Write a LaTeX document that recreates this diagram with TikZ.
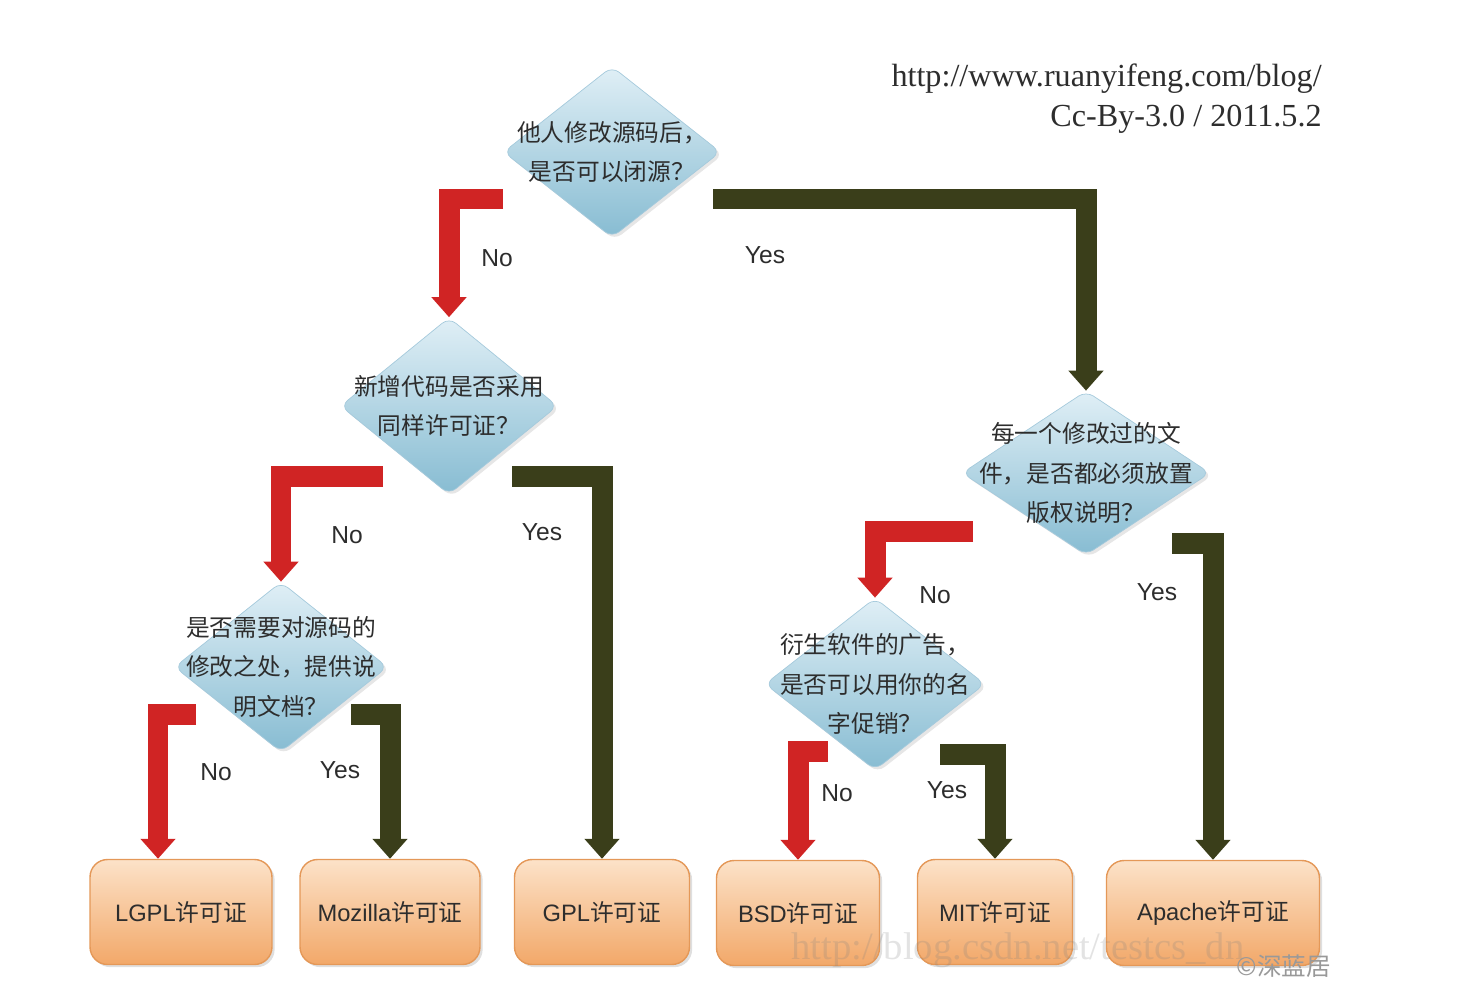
\documentclass[tikz,border=0pt]{standalone}
\usepackage{fontspec}
\setmainfont{Liberation Sans}
\newfontfamily\cjk{Noto Sans CJK SC}
\newfontfamily\serifhdr{Liberation Serif}
\usetikzlibrary{shapes.geometric,arrows.meta,calc,shadows}

\definecolor{diatop}{RGB}{224,239,246}
\definecolor{diabot}{RGB}{135,188,210}
\definecolor{dialine}{RGB}{165,202,220}
\definecolor{boxtop}{RGB}{252,226,200}
\definecolor{boxbot}{RGB}{242,168,105}
\definecolor{boxline}{RGB}{228,152,88}
\definecolor{nored}{RGB}{208,36,36}
\definecolor{yesgreen}{RGB}{58,62,26}
\definecolor{txt}{RGB}{45,45,45}

\begin{document}
\begin{tikzpicture}[x=0.02cm, y=-0.02cm,
        question/.style={diamond, draw=dialine, thin, rounded corners=5pt, top color=diatop, bottom color=diabot, inner sep=0pt, drop shadow={shadow xshift=1.5pt, shadow yshift=-1.5pt, opacity=0.2}},
        qtext/.style={font=\cjk\fontsize{13.5}{22.4}\selectfont, align=center, text=txt},
        licence/.style={rectangle, rounded corners=10pt, draw=boxline, thick, top color=boxtop, bottom color=boxbot, minimum height=2.1cm, font=\fontsize{13.5}{16}\selectfont, text=txt, drop shadow={shadow xshift=1.5pt, shadow yshift=-1.5pt, opacity=0.25}},
        answer/.style={font=\fontsize{14}{16}\selectfont, text=txt},
        noarrow/.style={line width=0.42cm, nored, line join=miter, -{Triangle[width=0.68cm, length=0.4cm]}},
        yesarrow/.style={noarrow, yesgreen}
    ]
    \useasboundingbox (0,0) rectangle (1472,1004);

    % questions
    \node[question, minimum width=4.34cm, minimum height=3.42cm] (closed) at (612,152) {};
    \node[qtext] (closedtxt) at (closed) {他人修改源码后，\\是否可以闭源？};
    \node[question, minimum width=4.34cm, minimum height=3.54cm] (samelic) at (449,406) {};
    \node[qtext] (samelictxt) at (samelic) {新增代码是否采用\\同样许可证？};
    \node[question, minimum width=4.26cm, minimum height=3.4cm] (docs) at (281,667) {};
    \node[qtext] (docstxt) at (docs) {是否需要对源码的\\修改之处，提供说\\明文档？};
    \node[question, minimum width=4.96cm, minimum height=3.28cm] (notice) at (1086,473) {};
    \node[qtext] (noticetxt) at (notice) {每一个修改过的文\\件，是否都必须放置\\版权说明？};
    \node[question, minimum width=4.4cm, minimum height=3.44cm] (promo) at (875,684) {};
    \node[qtext] (promotxt) at (promo) {衍生软件的广告，\\是否可以用你的名\\字促销？};

    % licences
    \node[licence, minimum width=3.64cm] (lgpl) at (181,912) {LGPL{\cjk 许可证}};
    \node[licence, minimum width=3.6cm] (mozilla) at (390,912) {Mozilla{\cjk 许可证}};
    \node[licence, minimum width=3.5cm] (gpl) at (602,912) {GPL{\cjk 许可证}};
    \node[licence, minimum width=3.26cm] (bsd) at (798,913) {BSD{\cjk 许可证}};
    \node[licence, minimum width=3.1cm] (mit) at (995,912) {MIT{\cjk 许可证}};
    \node[licence, minimum width=4.26cm] (apache) at (1213,913) {Apache{\cjk 许可证}};

    \draw[noarrow] ($(closed)+(-109,47)$) -| (samelic.north);
    \draw[yesarrow] ($(closed)+(101,47)$) -| (notice.north);
    \draw[noarrow] ($(samelic)+(-66,70)$) -| (docs.north);
    \draw[yesarrow] ($(samelic)+(63,70)$) -| (gpl.north);
    \draw[noarrow] ($(docs)+(-85,47)$) -| ($(lgpl.north)+(-23,0)$);
    \draw[yesarrow] ($(docs)+(70,47)$) -| (mozilla.north);
    \draw[noarrow] ($(notice)+(-113,58)$) -| (promo.north);
    \draw[yesarrow] ($(notice)+(86,70)$) -| (apache.north);
    \draw[noarrow] ($(promo)+(-47,67)$) -| (bsd.north);
    \draw[yesarrow] ($(promo)+(65,70)$) -| (mit.north);

    \node[answer] (no1) at (497,258) {No};
    \node[answer] (yes1) at (765,255) {Yes};
    \node[answer] (no2) at (347,535) {No};
    \node[answer] (yes2) at (542,532) {Yes};
    \node[answer] (no3) at (216,772) {No};
    \node[answer] (yes3) at (340,770) {Yes};
    \node[answer] (no4) at (935,595) {No};
    \node[answer] (yes4) at (1157,592) {Yes};
    \node[answer] (no5) at (837,793) {No};
    \node[answer] (yes5) at (947,790) {Yes};

    % source and watermark
    \node[anchor=north east, align=right, inner sep=0pt, font=\serifhdr\fontsize{18.3}{22.5}\selectfont, text=txt] (source) at (1322,64) {http://www.ruanyifeng.com/blog/\\Cc-By-3.0 / 2011.5.2};
    \node[font=\serifhdr\fontsize{22}{24}\selectfont, text=gray, opacity=0.22] (wmurl) at (1018,950) {http://blog.csdn.net/testcs\_dn};
    \node[font=\cjk\fontsize{14}{16}\selectfont, text=gray!80] (wmname) at (1284,966) {©深蓝居};
\end{tikzpicture}
\end{document}
